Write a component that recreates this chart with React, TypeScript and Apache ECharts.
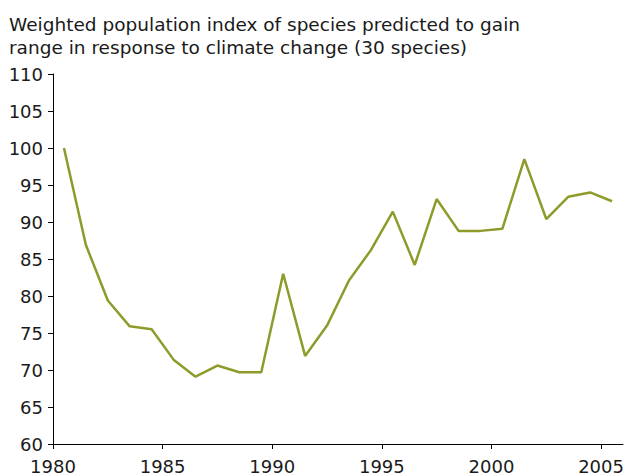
import React, { useEffect, useRef } from "react";
import * as echarts from "echarts";

const years = [
  1980, 1981, 1982, 1983, 1984, 1985, 1986, 1987, 1988, 1989,
  1990, 1991, 1992, 1993, 1994, 1995, 1996, 1997, 1998, 1999,
  2000, 2001, 2002, 2003, 2004, 2005,
];
const indexValues = [
  100.0, 86.9, 79.4, 75.9, 75.5, 71.4, 69.1, 70.6, 69.7, 69.7,
  83.0, 71.9, 76.0, 82.1, 86.2, 91.4, 84.2, 93.1, 88.8, 88.8,
  89.1, 98.5, 90.4, 93.4, 94.0, 92.8,
];
const xTickValues = [1980, 1985, 1990, 1995, 2000, 2005];
const titleLines = [
  "Weighted population index of species predicted to gain",
  "range in response to climate change (30 species)",
];

const FONT = "DejaVu Sans, Verdana, sans-serif";

export default function App() {
  const ref = useRef<HTMLDivElement>(null);
  useEffect(() => {
    document.body.style.margin = "0";
    if (!ref.current) return;
    const chart = echarts.init(ref.current, undefined, { renderer: "svg" });
    chart.setOption({
      animation: false,
      backgroundColor: "#ffffff",
      title: {
        text: titleLines.join("\n"),
        left: 4,
        top: 8,
        textStyle: {
          fontFamily: FONT,
          fontSize: 18.5,
          fontWeight: "normal",
          color: "#1a1a1a",
          lineHeight: 23,
        },
      },
      grid: { left: 53, right: 8, top: 74, bottom: 32, containLabel: false },
      xAxis: {
        type: "value",
        min: 1980,
        max: 2006,
        interval: 5,
        axisLine: { show: true, lineStyle: { color: "#000", width: 1 } },
        axisTick: {
          show: true,
          length: 5,
          customValues: xTickValues,
          lineStyle: { color: "#000" },
        },
        axisLabel: {
          customValues: xTickValues,
          formatter: (v: number) => String(v),
          margin: 13,
          fontFamily: FONT,
          fontSize: 18,
          color: "#1a1a1a",
        },
        splitLine: { show: false },
      },
      yAxis: {
        type: "value",
        min: 60,
        max: 110,
        interval: 5,
        axisLine: { show: true, lineStyle: { color: "#000", width: 1 } },
        axisTick: { show: true, length: 5, lineStyle: { color: "#000" } },
        axisLabel: {
          margin: 10,
          fontFamily: FONT,
          fontSize: 18,
          color: "#1a1a1a",
        },
        splitLine: { show: false },
      },
      series: [
        {
          type: "line",
          data: years.map((y, i) => [y + 0.5, indexValues[i]]),
          showSymbol: false,
          symbol: "none",
          lineStyle: { color: "#8e9b2b", width: 2.5 },
          itemStyle: { color: "#8e9b2b" },
        },
      ],
    });
    return () => chart.dispose();
  }, []);
  return <div ref={ref} style={{ width: 631, height: 476 }} />;
}
